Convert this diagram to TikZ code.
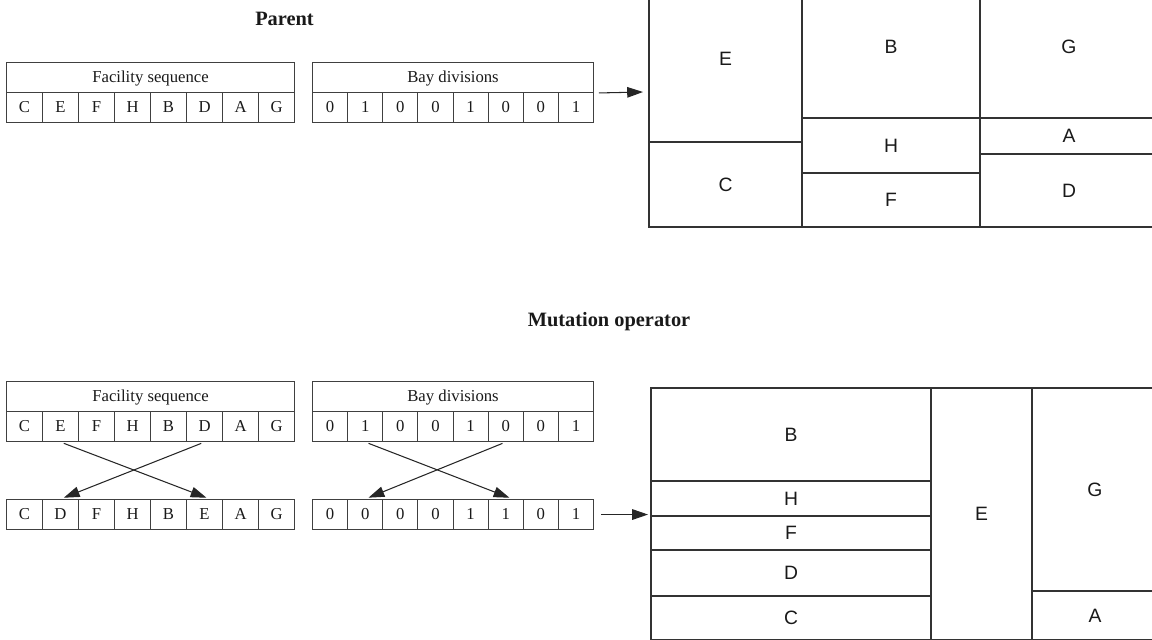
\documentclass[tikz,border=0pt]{standalone}
\usepackage{fontspec}
\setmainfont{Liberation Serif}
\newfontfamily\roomfont{Liberation Sans}
\usetikzlibrary{arrows.meta,positioning}

\begin{document}
\begin{tikzpicture}[>={Triangle[length=9pt,width=6pt]}, line join=miter,
  cell/.style={draw=black!75, line width=0.6pt, inner sep=0pt,
    minimum height=0.6cm, text height=1.55ex, text depth=0.3ex, text=black!90,
    font=\fontsize{9.5}{11}\selectfont},
  room/.style={draw=black!80, line width=0.6pt},
  roomtext/.style={text=black!90, font=\roomfont\fontsize{11}{13}\selectfont},
  title/.style={anchor=base, text=black!90,
    font=\bfseries\fontsize{11.6}{14}\selectfont},
  link/.style={->, draw=black!85, line width=0.6pt}]

\useasboundingbox (0,0) rectangle (23.04,-12.78);

% ----------------------------
% PARAMETERS
% ----------------------------
\def\fx{0.12}     % left of facility tables
\def\bx{6.24}     % left of bay tables
\def\cw{0.72}     % facility cell width
\def\bw{0.7025}   % bay cell width
\pgfmathsetmacro{\fw}{8*\cw}
\pgfmathsetmacro{\bwd}{8*\bw}

% ----------------------------
% PARENT
% ----------------------------
\node[title] (parent) at (5.69,-0.5) {Parent};

% facility sequence
\node[cell, minimum width=\fw cm, anchor=north west] (pfHead) at (\fx,-1.24) {Facility sequence};
\foreach \s [count=\i] in {C,E,F,H,B,D,A,G}
  \node[cell, minimum width=\cw cm, anchor=north west] (pf\i) at ({\fx+(\i-1)*\cw},-1.84) {\s};

% bay divisions
\node[cell, minimum width=\bwd cm, anchor=north west] (pbHead) at (\bx,-1.24) {Bay divisions};
\foreach \s [count=\i] in {0,1,0,0,1,0,0,1}
  \node[cell, minimum width=\bw cm, anchor=north west] (pb\i) at ({\bx+(\i-1)*\bw},-1.84) {\s};

\coordinate (pIn) at (12.86,-1.84);
\draw[link, shorten <=2.8pt] (pbHead.south east) -- (pIn);

% parent layout
\draw[room] (12.98,0.5) rectangle node[roomtext] (pE) {E} (16.04,-2.84);
\draw[room] (12.98,-2.84) rectangle node[roomtext] (pC) {C} (16.04,-4.54);
\draw[room] (16.04,0.5) rectangle node[roomtext] (pB) {B} (19.6,-2.36);
\draw[room] (16.04,-2.36) rectangle node[roomtext] (pH) {H} (19.6,-3.46);
\draw[room] (16.04,-3.46) rectangle node[roomtext] (pF) {F} (19.6,-4.54);
\draw[room] (19.6,0.5) rectangle node[roomtext] (pG) {G} (23.16,-2.36);
\draw[room] (19.6,-2.36) rectangle node[roomtext] (pA) {A} (23.16,-3.08);
\draw[room] (19.6,-3.08) rectangle node[roomtext] (pD) {D} (23.16,-4.54);

% ----------------------------
% MUTATION
% ----------------------------
\node[title] (mutation) at (12.18,-6.52) {Mutation operator};

% facility sequence, before and after the swap
\node[cell, minimum width=\fw cm, anchor=north west] (mfHead) at (\fx,-7.62) {Facility sequence};
\foreach \s [count=\i] in {C,E,F,H,B,D,A,G}
  \node[cell, minimum width=\cw cm, anchor=north west] (mf\i) at ({\fx+(\i-1)*\cw},-8.22) {\s};
\foreach \s [count=\i] in {C,D,F,H,B,E,A,G}
  \node[cell, minimum width=\cw cm, anchor=north west] (nf\i) at ({\fx+(\i-1)*\cw},-9.98) {\s};

\draw[link, shorten <=2pt, shorten >=2pt] (mf2.south) -- ([xshift=3pt]nf6.north);
\draw[link, shorten <=2pt, shorten >=2pt] (mf6.south) -- (nf2.north);

% bay divisions, before and after the swap
\node[cell, minimum width=\bwd cm, anchor=north west] (mbHead) at (\bx,-7.62) {Bay divisions};
\foreach \s [count=\i] in {0,1,0,0,1,0,0,1}
  \node[cell, minimum width=\bw cm, anchor=north west] (mb\i) at ({\bx+(\i-1)*\bw},-8.22) {\s};
\foreach \s [count=\i] in {0,0,0,0,1,1,0,1}
  \node[cell, minimum width=\bw cm, anchor=north west] (nb\i) at ({\bx+(\i-1)*\bw},-9.98) {\s};

\draw[link, shorten <=2pt, shorten >=2pt] (mb2.south) -- ([xshift=4pt]nb6.north);
\draw[link, shorten <=2pt, shorten >=2pt] (mb6.south) -- (nb2.north);

\path (nb8.east) ++(1.08,0) coordinate (mIn);
\draw[link, shorten <=4pt] (nb8.east) -- (mIn);

% mutated layout
\draw[room] (13.02,-7.76) rectangle node[roomtext] (mB) {B} (18.62,-9.62);
\draw[room] (13.02,-9.62) rectangle node[roomtext] (mH) {H} (18.62,-10.32);
\draw[room] (13.02,-10.32) rectangle node[roomtext] (mF) {F} (18.62,-11.0);
\draw[room] (13.02,-11.0) rectangle node[roomtext] (mD) {D} (18.62,-11.92);
\draw[room] (13.02,-11.92) rectangle node[roomtext] (mC) {C} (18.62,-12.8);
\draw[room] (18.62,-7.76) rectangle node[roomtext] (mE) {E} (20.64,-12.8);
\draw[room] (20.64,-7.76) rectangle node[roomtext] (mG) {G} (23.16,-11.82);
\draw[room] (20.64,-11.82) rectangle node[roomtext] (mA) {A} (23.16,-12.8);

\end{tikzpicture}
\end{document}
